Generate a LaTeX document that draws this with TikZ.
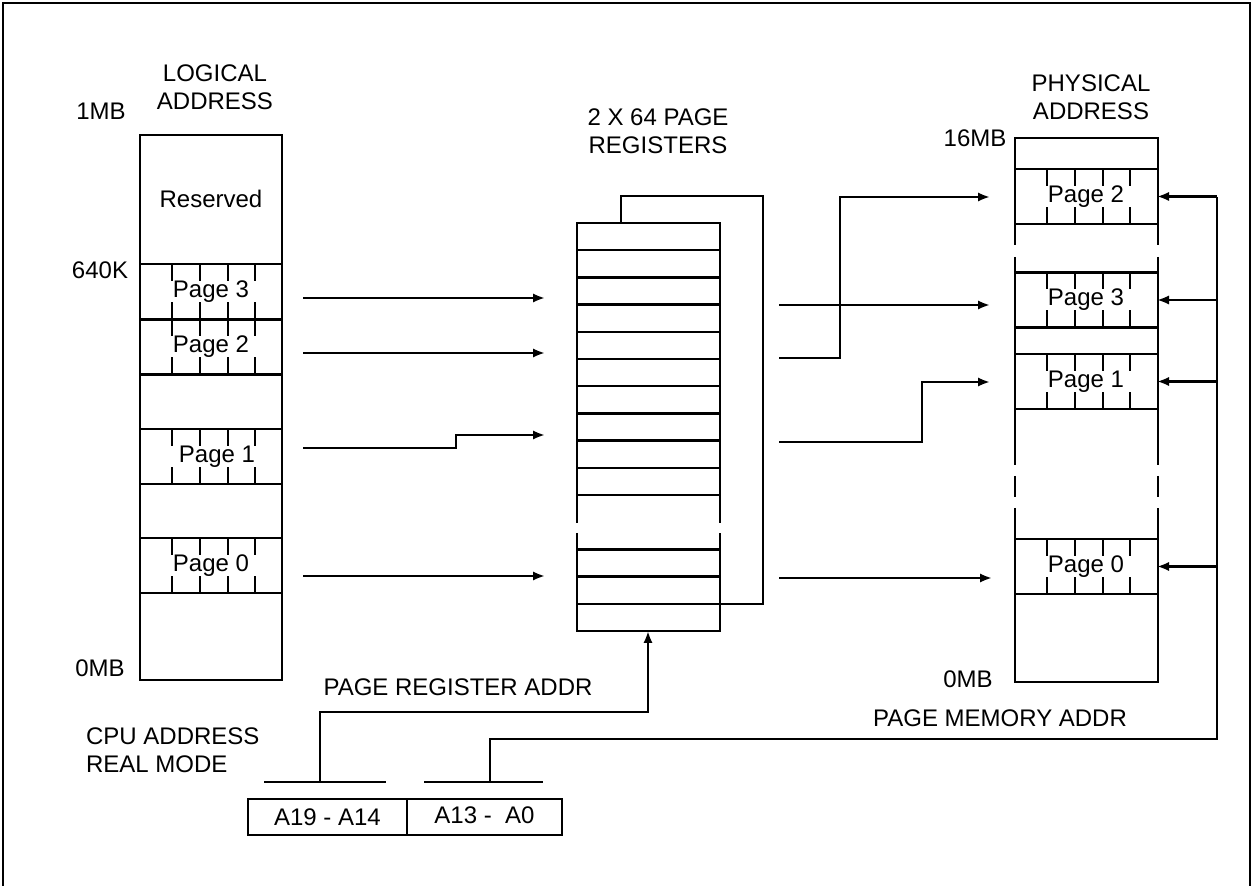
\documentclass[tikz,border=0pt]{standalone}
\usepackage{fontspec}
\setmainfont{Liberation Sans}
\usetikzlibrary{arrows.meta,positioning,calc}

\begin{document}
\begin{tikzpicture}[
  x=0.5pt,y=-0.5pt,
  >={Latex[length=6pt,width=4.6pt]},
  font=\fontsize{12}{13.8}\selectfont,
  line width=1.15pt,
  pagerow/.style={minimum width=71pt, minimum height=27.5pt, inner sep=0pt, outer sep=0pt, anchor=north west},
  field/.style={draw, minimum height=18pt, inner sep=0pt, outer sep=0pt, anchor=north west},
  caption/.style={align=center, inner sep=0pt},
  tag/.style={inner sep=0pt},
  link/.style={->, line width=1.15pt},
  tick/.style={line width=1pt}
]
\useasboundingbox (0,0) rectangle (1253,886);

% Frame
\draw (3,886) -- (3,3) -- (1250,3) -- (1250,886);

% Titles and scale marks
\node[caption] (logtitle) at (215,87) {LOGICAL\\ADDRESS};
\node[caption] (regtitle) at (658,131) {2 X 64 PAGE\\REGISTERS};
\node[caption] (phytitle) at (1091,97) {PHYSICAL\\ADDRESS};
\node[tag] (top1) at (101,111) {1MB};
\node[tag] (mid1) at (100,270) {640K};
\node[tag] (bot1) at (100,668) {0MB};
\node[tag] (top2) at (975,138) {16MB};
\node[tag] (bot2) at (968,679) {0MB};

% ================= Logical address space =================
\draw (140,135) rectangle (282,680);
\node (resv) at (211,199) {Reserved};
\node[pagerow] (lp3) at (140,264) {Page 3};
\node[pagerow] (lp2) at (140,319.5) {Page 2};
\node[pagerow] (lp1) at (140,429) {\hspace{6pt}Page 1};
\node[pagerow] (lp0) at (140,538) {Page 0};

% ================= Page registers =================
\draw (577,523) -- (577,223) -- (720,223) -- (720,523);
\draw (577,533) -- (577,631) -- (720,631) -- (720,533);
\foreach \k in {1,...,10}
  \draw (577,{223+27.2*\k}) -- (720,{223+27.2*\k});
\foreach \k in {0,1,2}
  \draw (577,{549.4+27.2*\k}) -- (720,{549.4+27.2*\k});
\coordinate (regbot) at (648,631);
% second register bank behind
\draw (621,223) |- (763,196) |- (720,603.8);

% ================= Physical address space =================
\draw (1015,245) -- (1015,138) -- (1158,138) -- (1158,245);
\draw (1015,257) -- (1015,465);
\draw (1158,257) -- (1158,465);
\draw (1015,476) -- (1015,497);
\draw (1158,476) -- (1158,497);
\draw (1015,508) -- (1015,682) -- (1158,682) -- (1158,508);
\node[pagerow] (pp2) at (1015,169) {Page 2};
\node[pagerow] (pp3) at (1015,272.5) {Page 3};
\node[pagerow] (pp1) at (1015,354) {Page 1};
\node[pagerow] (pp0) at (1015,539) {Page 0};

% page borders and ticks
\foreach \p in {lp3,lp2,lp1,lp0,pp2,pp3,pp1,pp0} {
  \draw (\p.north west) -- (\p.north east);
  \draw (\p.south west) -- (\p.south east);
  \foreach \dx in {32,60,88,115} {
    \draw[tick] ($(\p.north west)+(\dx,0)$) -- ++(0,17);
    \draw[tick] ($(\p.south west)+(\dx,0)$) -- ++(0,-17);
  }
}

% ================= Logical -> registers =================
\coordinate (ls3) at (303,298);
\coordinate (ls2) at (303,353);
\coordinate (ls1) at (303,448);
\coordinate (ls0) at (303,576);
\coordinate (rt3) at (545,298);
\coordinate (rt2) at (545,353);
\coordinate (rt1) at (545,435);
\coordinate (rt0) at (545,576);
\draw[link] (ls3) -- (rt3);
\draw[link] (ls2) -- (rt2);
\draw[link] (ls1) -- (456,448) |- (rt1);
\draw[link] (ls0) -- (rt0);

% ================= Registers -> physical =================
\coordinate (rs2) at (779,358);
\coordinate (rs3) at (779,305);
\coordinate (rs1) at (779,442);
\coordinate (rs0) at (779,578);
\coordinate (pt2) at (990,197);
\coordinate (pt3) at (990,305);
\coordinate (pt1) at (990,382);
\coordinate (pt0) at (992,578);
\draw[link] (rs2) -- (840,358) |- (pt2);
\draw[link] (rs3) -- (pt3);
\draw[link] (rs1) -- (922,442) |- (pt1);
\draw[link] (rs0) -- (pt0);

% ================= CPU address =================
\node[tag] (regaddr) at (458,687) {PAGE REGISTER ADDR};
\node[tag] (memaddr) at (1000,718) {PAGE MEMORY ADDR};
\node[tag, anchor=west, align=left] (cpu) at (85,750) {CPU ADDRESS\\REAL MODE};
\node[field, minimum width=79.5pt] (hifield) at (248,799) {A19 - A14};
\node[field, minimum width=77.5pt] (lofield) at (407,799) {\raisebox{1.5pt}{A13 -\ \ A0}};

\coordinate (bushi) at (320,782);
\coordinate (buslo) at (490,782);
\coordinate (busR) at (1217,739);
\draw (264,782) -- (386,782);
\draw (424,782) -- (543,782);
\draw[link] (bushi) -- (320,712) -| (regbot);
\draw (buslo) |- (busR) -- (busR |- pt2);
\draw[link] (busR |- pp2.east) -- (pp2.east);
\draw[link] (busR |- pp3.east) -- (pp3.east);
\draw[link] (busR |- pp1.east) -- (pp1.east);
\draw[link] (busR |- pp0.east) -- (pp0.east);

\end{tikzpicture}
\end{document}
